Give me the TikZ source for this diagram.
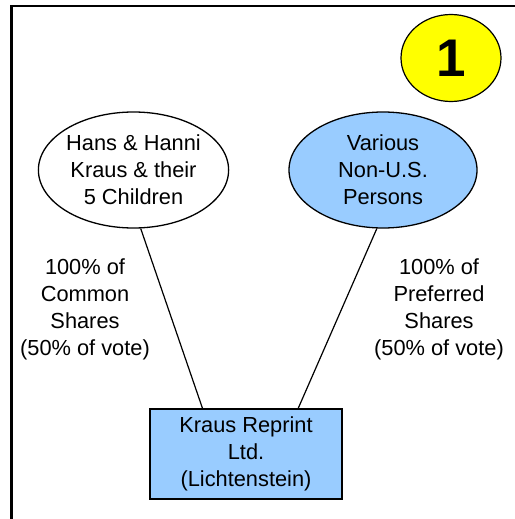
\documentclass[tikz,border=0pt]{standalone}
\usepackage{fontspec}
\setmainfont{Liberation Sans}
\usetikzlibrary{shapes.geometric,calc}
\definecolor{lblue}{HTML}{99CCFF}
\definecolor{yel}{HTML}{FFFF00}
\tikzset{
  txt/.style={font=\fontsize{21.8}{27}\selectfont, align=center, inner sep=0pt},
  oval/.style={txt, ellipse, draw=black, line width=1.3pt, minimum width=190pt, minimum height=116pt},
  conn/.style={draw=black, line width=1.2pt},
}
\begin{document}
\begin{tikzpicture}[x=1pt,y=-1pt]
\useasboundingbox (0,0) rectangle (514,519);
\draw[line width=2.4pt] (11.3,530) -- (11.3,6) -- (530,6);
\node[ellipse, draw=black, line width=1.2pt, fill=yel, minimum width=100pt, minimum height=87pt, inner sep=0pt,
      font=\fontsize{53}{53}\selectfont\bfseries] (one) at (451,58) {1};
\node[oval, fill=white] (L) at (133.5,170) {Hans \& Hanni\\Kraus \& their\\5 Children};
\node[oval, fill=lblue, minimum width=188pt] (R) at (383,170) {Various\\Non-U.S.\\Persons};
\node[txt, draw=black, line width=1.4pt, fill=lblue, minimum width=192pt, minimum height=90pt] (K) at (246,454) {Kraus Reprint\\Ltd.\\(Lichtenstein)};
\node[txt] (lt) at (85,309) {100\% of\\Common\\Shares\\(50\% of vote)};
\node[txt] (rt) at (439,309) {100\% of\\Preferred\\Shares\\(50\% of vote)};
\draw[conn] (L.-83) -- ($(K.north)!0.45!(K.north west)$);
\draw[conn] (R.-96) -- ($(K.north)!0.54!(K.north east)$);
\end{tikzpicture}
\end{document}
